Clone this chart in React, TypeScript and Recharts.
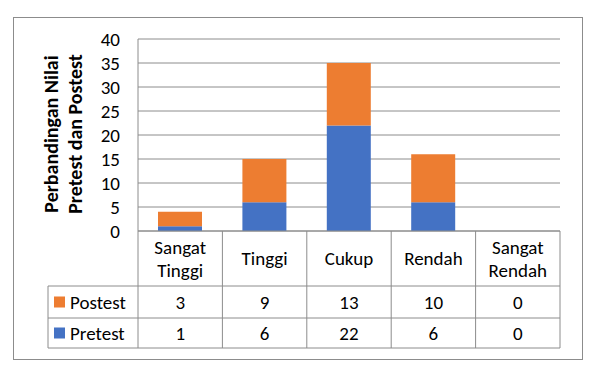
import React from 'react';
import { BarChart, Bar, XAxis, YAxis, CartesianGrid } from 'recharts';

const categories = ['Sangat Tinggi', 'Tinggi', 'Cukup', 'Rendah', 'Sangat Rendah'];
const postest = [3, 9, 13, 10, 0];
const pretest = [1, 6, 22, 6, 0];
const yTicks = [0, 5, 10, 15, 20, 25, 30, 35, 40];
const seriesNames = ['Postest', 'Pretest'];
const seriesColors = ['#ED7D31', '#4472C4'];
const yTitle = ['Perbandingan Nilai', 'Pretest dan Postest'];

const data = categories.map((c, i) => ({ name: c, pretest: pretest[i], postest: postest[i] }));
const rowValues = [postest, pretest];

const FONT = 'Carlito, Lato, "Open Sans", sans-serif';
const FS = 19;
const TFS = 20;
const GRID = '#8c8c8c';
const W = 596;
const H = 373;
const PLOT_L = 138;
const PLOT_R = 560;
const PLOT_T = 39;
const PLOT_B = 231;
const ROWS = [286, 318, 348];
const TABLE_L = 48;
const CW = (PLOT_R - PLOT_L) / categories.length;

const CatTick = (props: any) => {
  const { x, payload, index } = props;
  const i = payload && payload.index != null ? payload.index : index;
  const words = String(payload.value).split(' ');
  const left = x - CW / 2;
  const headerMid = (PLOT_B + ROWS[0]) / 2;
  const lineGap = 23;
  const startY = headerMid - ((words.length - 1) * lineGap) / 2;
  return (
    <g>
      <line x1={left} x2={left} y1={PLOT_B} y2={ROWS[2]} stroke={GRID} strokeWidth={1} />
      {i === categories.length - 1 && (
        <line x1={left + CW} x2={left + CW} y1={PLOT_B} y2={ROWS[2]} stroke={GRID} strokeWidth={1} />
      )}
      {words.map((w, k) => (
        <text key={k} x={x} y={startY + k * lineGap} textAnchor="middle" dominantBaseline="central"
          fontFamily={FONT} fontSize={FS} fill="#000">{w}</text>
      ))}
      {rowValues.map((vals, r) => (
        <text key={'v' + r} x={x} y={(ROWS[r] + ROWS[r + 1]) / 2}
          textAnchor="middle" dominantBaseline="central" fontFamily={FONT} fontSize={FS} fill="#000">
          {vals[i]}
        </text>
      ))}
    </g>
  );
};

const TableFrame = () => (
  <g>
    {ROWS.map((ry, k) => (
      <line key={k} x1={TABLE_L} x2={PLOT_R} y1={ry} y2={ry} stroke={GRID} strokeWidth={1} />
    ))}
    <line x1={TABLE_L} x2={TABLE_L} y1={ROWS[0]} y2={ROWS[2]} stroke={GRID} strokeWidth={1} />
    {seriesNames.map((n, r) => {
      const cy = (ROWS[r] + ROWS[r + 1]) / 2;
      return (
        <g key={n}>
          <rect x={54} y={cy - 5.5} width={11} height={11} fill={seriesColors[r]} />
          <text x={70} y={cy} dominantBaseline="central" fontFamily={FONT} fontSize={FS} fill="#000">{n}</text>
        </g>
      );
    })}
  </g>
);

const YTitle = () => (
  <g transform={`translate(63,${(PLOT_T + PLOT_B) / 2 - 1}) rotate(-90)`}>
    {yTitle.map((t, k) => (
      <text key={k} x={0} y={k === 0 ? -12 : 12} textAnchor="middle" dominantBaseline="central"
        fontFamily={FONT} fontSize={TFS} fontWeight="bold" fill="#000">{t}</text>
    ))}
  </g>
);

export default function App() {
  return (
    <div style={{ position: 'absolute', left: 0, top: 0, width: W, height: H, background: '#fff' }}>
      <div style={{ position: 'absolute', left: 13, top: 17, width: 570, height: 343, boxSizing: 'border-box', border: `1px solid ${GRID}` }} />
      <div style={{ position: 'absolute', left: 0, top: 0 }}>
        <BarChart width={W} height={H} data={data} margin={{ top: PLOT_T, right: W - PLOT_R, bottom: 0, left: 0 }}>
          <CartesianGrid vertical={false} stroke={GRID} strokeWidth={1} />
          <XAxis dataKey="name" height={H - PLOT_B} axisLine={{ stroke: GRID }} tickLine={false}
            interval={0} tick={<CatTick />} label={{ content: () => <TableFrame /> }} />
          <YAxis width={PLOT_L} domain={[0, 40]} ticks={yTicks} interval={0} axisLine={{ stroke: GRID }} tickLine={false}
            tickSize={0} tickMargin={18} tick={{ fontFamily: FONT, fontSize: FS, fill: '#000' }}
            label={{ content: () => <YTitle /> }} />
          <Bar dataKey="pretest" name="Pretest" stackId="a" fill="#4472C4" barSize={44} isAnimationActive={false} />
          <Bar dataKey="postest" name="Postest" stackId="a" fill="#ED7D31" barSize={44} isAnimationActive={false} />
        </BarChart>
      </div>
    </div>
  );
}
